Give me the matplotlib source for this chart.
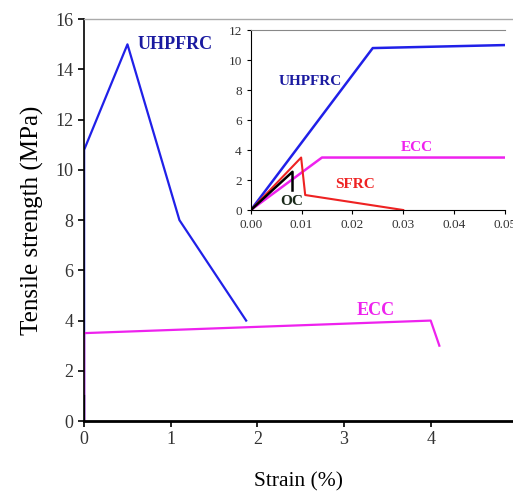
import matplotlib
matplotlib.use('agg')
import matplotlib.pyplot as plt

# main chart data (strain %, stress MPa)
uhpfrc_x = [0, 0, 0.5, 1.1, 1.87]
uhpfrc_y = [0, 10.8, 15.0, 8.0, 4.0]
ecc_x = [0, 0, 4.0, 4.1]
ecc_y = [0, 3.5, 4.0, 3.0]
oc_x = [0, 0]
oc_y = [0, 1.0]

# inset data (strain %, stress MPa)
in_uhpfrc_x = [0, 0.024, 0.05]
in_uhpfrc_y = [0, 10.8, 11.0]
in_ecc_x = [0, 0.014, 0.05]
in_ecc_y = [0, 3.5, 3.5]
in_sfrc_x = [0, 0.0099, 0.0107, 0.030]
in_sfrc_y = [0, 3.5, 1.0, 0.0]
in_oc_x = [0, 0.0082, 0.0082]
in_oc_y = [0, 2.55, 1.3]

main_yticks = [0, 2, 4, 6, 8, 10, 12, 14, 16]
main_xticks = [0, 1, 2, 3, 4]
inset_yticks = [0, 2, 4, 6, 8, 10, 12]
inset_xticks = [0.00, 0.01, 0.02, 0.03, 0.04, 0.05]

plt.rcParams['font.family'] = ['Liberation Serif', 'DejaVu Serif']

BLUE = '#2020e8'
MAG = '#ee22ee'
RED = '#ee2222'

fig = plt.figure(figsize=(5.13, 4.93), dpi=100)
ax = fig.add_axes([0.164, 0.146, 0.836, 0.815])
ax.plot(uhpfrc_x, uhpfrc_y, color=BLUE, lw=1.6)
ax.plot(ecc_x, ecc_y, color=MAG, lw=1.6)
ax.plot(oc_x, oc_y, color='black', lw=1.6)
ax.set_xlim(0, 4.95)
ax.set_ylim(0, 16)
ax.set_xticks(main_xticks)
ax.set_yticks(main_yticks)
ax.tick_params(labelsize=13, length=4, width=1.2, labelcolor='#333333')
ax.spines['right'].set_visible(False)
ax.spines['top'].set_color('#aaaaaa')
ax.spines['top'].set_linewidth(1.0)
ax.spines['bottom'].set_linewidth(2.0)
ax.spines['left'].set_linewidth(1.2)
ax.set_xlabel('Strain (%)', fontsize=15.5, labelpad=17)
ax.set_ylabel('Tensile strength (MPa)', fontsize=18, labelpad=8)
ax.text(0.62, 15.0, 'UHPFRC', color='#1a1aa0', fontsize=13, fontweight='bold', va='center')
ax.text(3.15, 4.4, 'ECC', color=MAG, fontsize=13, fontweight='bold', va='center')

ins = fig.add_axes([0.489, 0.574, 0.495, 0.365])
ins.plot(in_uhpfrc_x, in_uhpfrc_y, color=BLUE, lw=1.8)
ins.plot(in_ecc_x, in_ecc_y, color=MAG, lw=1.8)
ins.plot(in_sfrc_x, in_sfrc_y, color=RED, lw=1.5)
ins.plot(in_oc_x, in_oc_y, color='black', lw=1.8)
ins.set_xlim(0, 0.05)
ins.set_ylim(0, 12)
ins.set_xticks(inset_xticks)
ins.set_xticklabels(['%.2f' % v for v in inset_xticks])
ins.set_yticks(inset_yticks)
ins.tick_params(labelsize=9.5, length=3, labelcolor='#333333')
ins.spines['right'].set_visible(False)
ins.spines['top'].set_color('#888888')
ins.patch.set_alpha(0)
ins.text(0.0055, 8.6, 'UHPFRC', color='#1a1aa0', fontsize=11, fontweight='bold', va='center')
ins.text(0.0295, 4.2, 'ECC', color=MAG, fontsize=11, fontweight='bold', va='center')
ins.text(0.0167, 1.7, 'SFRC', color=RED, fontsize=11, fontweight='bold', va='center')
ins.text(0.0058, 0.6, 'OC', color='#1a2a1a', fontsize=11, fontweight='bold', va='center')

fig.savefig('out.png', dpi=100)
